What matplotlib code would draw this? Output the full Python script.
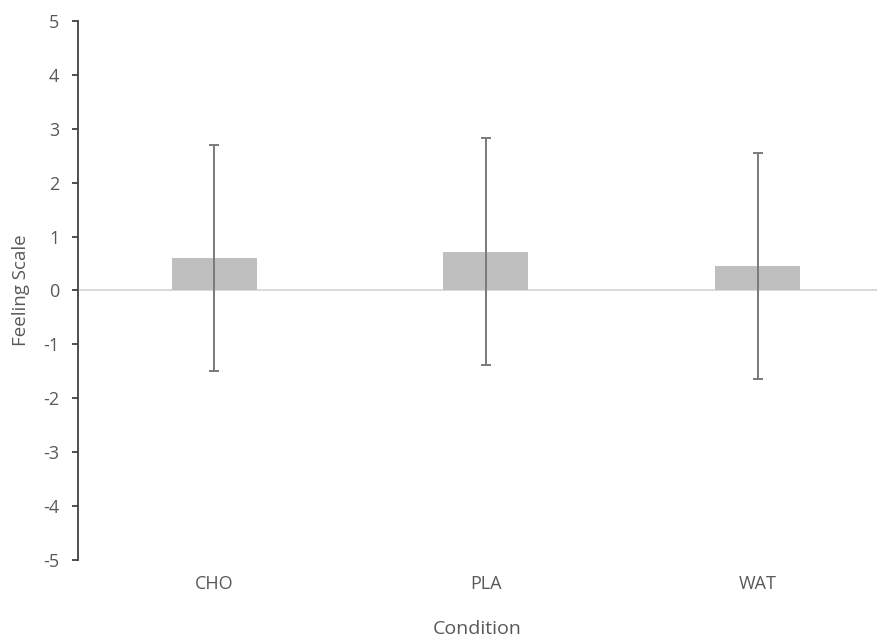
import matplotlib
matplotlib.use("Agg")
import matplotlib.pyplot as plt

conditions = ["CHO", "PLA", "WAT"]
feeling_mean = [0.60, 0.72, 0.455]
feeling_sd = [2.10, 2.10, 2.10]
y_ticks = [-5, -4, -3, -2, -1, 0, 1, 2, 3, 4, 5]

plt.rcParams["font.family"] = ["Open Sans", "DejaVu Sans"]
text_color = "#595959"

fig = plt.figure(figsize=(8.79, 6.36), dpi=100)
ax = fig.add_axes([0.0887, 0.1195, 0.9093, 0.8475])

x = list(range(len(conditions)))
ax.bar(x, feeling_mean, width=0.313, color="#bfbfbf", zorder=2)
ax.errorbar(x, feeling_mean, yerr=feeling_sd, fmt="none", ecolor="#7a7a7a",
            elinewidth=1.4, capsize=3.8, capthick=1.4, zorder=3)

ax.axhline(0, color="#d9d9d9", linewidth=1.4, zorder=1)

ax.set_xlim(-0.501, 2.44)
ax.set_ylim(-5, 5)
ax.set_yticks(y_ticks)
ax.set_yticklabels([str(t) for t in y_ticks])
ax.set_xticks(x)
ax.set_xticklabels(conditions)

for side in ["top", "right", "bottom"]:
    ax.spines[side].set_visible(False)
ax.spines["left"].set_color("#404040")
ax.spines["left"].set_linewidth(1.3)

ax.tick_params(axis="y", length=4.5, width=1.3, color="#404040", pad=9,
               labelsize=13, labelcolor=text_color)
ax.tick_params(axis="x", length=0, pad=11, labelsize=13, labelcolor=text_color)

ax.set_xlabel("Condition", fontsize=14, color=text_color, labelpad=19)
ax.set_ylabel("Feeling Scale", fontsize=13.5, color=text_color, labelpad=9)

fig.savefig("out.png", dpi=100)
